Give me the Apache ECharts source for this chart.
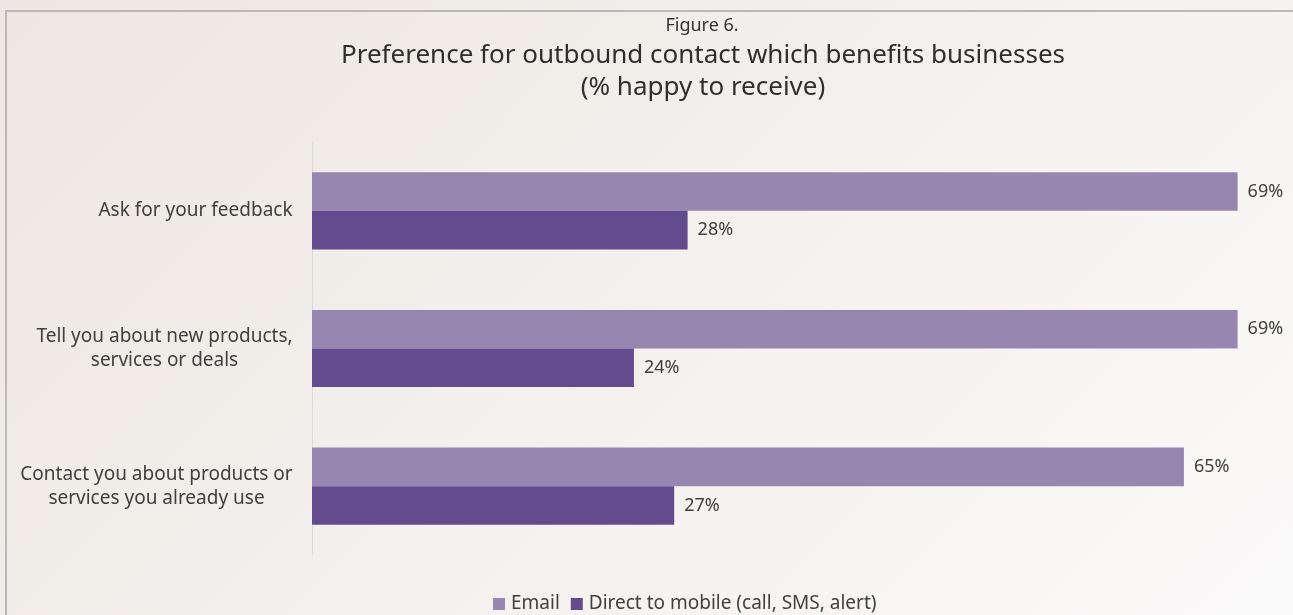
<!DOCTYPE html>
<html>
<head>
<meta charset="utf-8">
<script src="https://cdn.jsdelivr.net/npm/echarts@6/dist/echarts.min.js"></script>
<style>
  html, body { margin: 0; padding: 0; }
  body {
    width: 1293px; height: 615px; overflow: hidden;
    background: linear-gradient(135deg, #ece7e2 0%, #f3efec 45%, #fbfafa 100%);
  }
  #chart { width: 1293px; height: 615px; }
</style>
</head>
<body>
<div id="chart"></div>
<script>
// --- data ---
const categories = [
    'Contact you about products or\nservices you already use',
    'Tell you about new products,\nservices or deals',
    'Ask for your feedback'
];
const seriesNames = ['Email', 'Direct to mobile (call, SMS, alert)'];
const emailValues = [65, 69, 69];
const mobileValues = [27, 24, 28];

const labelFont = '19px "Noto Sans"';

// measure widest line of each label so lines centre inside a right-aligned block
const ctx = document.createElement('canvas').getContext('2d');
ctx.font = labelFont;
const rich = {};
categories.forEach((c, i) => {
    const w = Math.max(...c.split('\n').map(s => ctx.measureText(s).width));
    rich['c' + i] = { width: Math.ceil(w), align: 'center', fontSize: 19, fontFamily: 'Noto Sans', color: '#404040', lineHeight: 24 };
});

const chart = echarts.init(document.getElementById('chart'));

chart.setOption({
    backgroundColor: 'transparent',
    textStyle: { fontFamily: 'Noto Sans' },
    title: [
        {
            text: 'Figure 6.',
            left: 697, top: 10, textAlign: 'center',
            textStyle: { fontSize: 18, fontWeight: 'normal', color: '#333', lineHeight: 22 }
        },
        {
            text: 'Preference for outbound contact which benefits businesses\n(% happy to receive)',
            left: 698, top: 35, textAlign: 'center',
            textStyle: { fontSize: 26, fontWeight: 'normal', color: '#2f2f2f', lineHeight: 32 }
        }
    ],
    legend: {
        top: 589, left: 488,
        itemWidth: 12, itemHeight: 12, itemGap: 11,
        icon: 'rect',
        textStyle: { fontSize: 19, color: '#404040', lineHeight: 20, padding: [0, 0, 0, 1] },
        data: seriesNames
    },
    grid: { left: 312, top: 142, width: 939, height: 413, containLabel: false },
    xAxis: {
        type: 'value', min: 0, max: 70,
        show: false
    },
    yAxis: {
        type: 'category',
        data: categories,
        axisLine: { show: true, lineStyle: { color: '#d6dcdc', width: 1 } },
        axisTick: { show: false },
        axisLabel: {
            margin: 19,
            align: 'right',
            formatter: (v, i) => v.split('\n').map(s => '{c' + i + '|' + s + '}').join('\n'),
            rich: rich
        }
    },
    series: [
        {
            name: seriesNames[0], type: 'bar',
            data: emailValues,
            itemStyle: { color: '#9787b0' },
            barGap: '0%', barCategoryGap: '44%',
            label: { show: true, position: 'right', distance: 10, formatter: '{c}%', fontSize: 18, color: '#404040' }
        },
        {
            name: seriesNames[1], type: 'bar',
            data: mobileValues,
            itemStyle: { color: '#634b8e' },
            label: { show: true, position: 'right', distance: 10, formatter: '{c}%', fontSize: 18, color: '#404040' }
        }
    ],
    graphic: [
        {
            type: 'rect', silent: true, z: -1,
            shape: { x: 6, y: 11, width: 1400, height: 700 },
            style: { fill: 'none', stroke: '#b8b8bd', lineWidth: 2 }
        }
    ]
});
</script>
</body>
</html>
